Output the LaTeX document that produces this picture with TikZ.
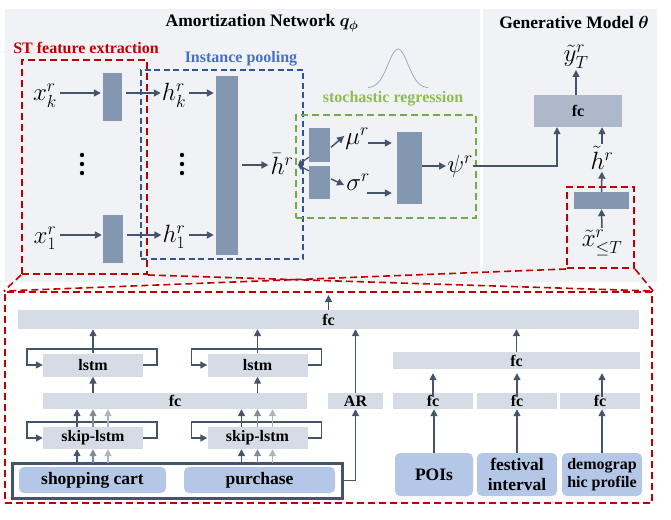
\RequirePackage{fix-cm}
\documentclass[tikz,border=0pt]{standalone}
\usepackage{amsmath}
\usepackage{bm}
\usepackage{fontspec}
\setmainfont{Liberation Serif}
\usetikzlibrary{arrows.meta,calc}
\definecolor{bgc}{RGB}{240,242,246}
\definecolor{rectc}{RGB}{132,151,176}
\definecolor{fcdark}{RGB}{173,185,202}
\definecolor{fclight}{RGB}{214,220,229}
\definecolor{inbox}{RGB}{180,199,231}
\definecolor{arrc}{RGB}{68,84,106}
\definecolor{arrm}{RGB}{128,139,156}
\definecolor{arrl}{RGB}{173,180,191}
\definecolor{redc}{RGB}{192,0,0}
\definecolor{bluec}{RGB}{47,85,151}
\definecolor{greenc}{RGB}{112,173,71}
\definecolor{bluetext}{RGB}{68,114,196}
\definecolor{greentext}{RGB}{141,190,80}
\definecolor{bellc}{RGB}{143,165,192}
\tikzset{
  arr/.style={draw=arrc, line width=1.5pt, -{Triangle[length=7pt,width=7pt]}},
  arrmid/.style={arr, draw=arrm, -{Triangle[length=7pt,width=7pt,fill=arrm]}},
  arrlight/.style={arr, draw=arrl, -{Triangle[length=7pt,width=7pt,fill=arrl]}},
  grect/.style={fill=rectc, draw=none, inner sep=0pt},
  lbar/.style={fill=fclight, draw=none, inner sep=0pt, font=\fontsize{16}{18}\selectfont\bfseries},
  ibox/.style={fill=inbox, draw=none, rounded corners=5pt, inner sep=0pt, align=center, font=\fontsize{17.5}{20}\selectfont\bfseries},
  mth/.style={inner sep=0pt, font=\fontsize{25}{30}\selectfont},
  ttl/.style={inner sep=0pt, font=\fontsize{17.5}{20}\selectfont\bfseries},
  ttlb/.style={inner sep=0pt, font=\fontsize{16}{18}\selectfont\bfseries},
  redbox/.style={draw=redc, line width=2pt, dash pattern=on 7pt off 4pt, inner sep=0pt},
  bluebox/.style={draw=bluec, line width=1.8pt, dash pattern=on 6pt off 3.5pt, inner sep=0pt},
  greenbox/.style={draw=greenc, line width=2pt, dash pattern=on 7pt off 4pt, inner sep=0pt},
  redline/.style={draw=redc, line width=1.6pt, dash pattern=on 7pt off 4pt},
}
\begin{document}
\begin{tikzpicture}[x=1pt,y=-1pt]
\useasboundingbox (0,0) rectangle (671,519);
% panels
\fill[bgc] (5,9) rectangle (480,282);
\fill[bgc] (483,9) rectangle (657,282);
% titles
\node[ttl] (t1) at (262,23) {Amortization Network $\bm{q_{\phi}}$};
\node[ttl] (t2) at (574,23) {Generative Model $\bm{\theta}$};
\node[ttlb, text=redc] (t3) at (86,48) {ST feature extraction};
\node[ttlb, text=bluetext] (t4) at (241,59) {Instance pooling};
\node[ttlb, text=greentext] (t5) at (393,99) {stochastic regression};
% bell curve
\draw[bellc, line width=0.7pt, domain=-3:3, samples=60, smooth] plot ({398+10*\x},{88-39*exp(-\x*\x/2)});
% dashed boxes
\node[redbox, minimum width=125pt, minimum height=214pt] (stbox) at (84.5,167) {};
\node[bluebox, minimum width=162pt, minimum height=189pt] (ipbox) at (222,164.5) {};
\node[greenbox, minimum width=180pt, minimum height=103pt] (srbox) at (386,166.5) {};
\node[redbox, minimum width=67pt, minimum height=81pt] (xbox) at (600.5,227.5) {};
\node[redbox, minimum width=647pt, minimum height=211pt] (big) at (328.5,397.5) {};
% connection lines
\draw[redline] (stbox.south west) -- (big.north west);
\draw[redline] (stbox.south east) -- (big.north east);
\draw[redline] (xbox.south west) -- (big.north west);
\draw[redline] (xbox.south east) -- (big.north east);
% amortization network
\node[mth] (xk) at (45,96) {$x_k^r$};
\node[mth] (x1) at (45,238) {$x_1^r$};
\node[grect, minimum width=19pt, minimum height=48pt] (r1) at (112.5,97) {};
\node[grect, minimum width=20pt, minimum height=48pt] (r2) at (113,239) {};
\node[mth] (hk) at (174,95) {$h_k^r$};
\node[mth] (h1) at (174,237) {$h_1^r$};
\node[grect, minimum width=22pt, minimum height=179pt] (pool) at (227,165.5) {};
\node[mth] (hbar) at (282,164) {$\bar{h}^r$};
\fill (82,155) circle (2.2pt);
\fill (82,164) circle (2.2pt);
\fill (82,173) circle (2.2pt);
\fill (182,155) circle (2.2pt);
\fill (182,164) circle (2.2pt);
\fill (182,173) circle (2.2pt);
\draw[arr, shorten <=3pt, shorten >=2pt] ([yshift=3pt]xk.east) -- ([yshift=3pt]xk.east -| r1.west);
\draw[arr, shorten <=3pt, shorten >=1pt] ([yshift=3pt]x1.east) -- ([yshift=3pt]x1.east -| r2.west);
\draw[arr, shorten <=4pt, shorten >=1pt] ([yshift=2pt]r1.east |- hk.west) -- ([yshift=2pt]hk.west);
\draw[arr, shorten <=4pt, shorten >=1pt] ([yshift=2pt]r2.east |- h1.west) -- ([yshift=2pt]h1.west);
\draw[arr, shorten <=3pt, shorten >=2pt] ([yshift=2pt]hk.east) -- ([yshift=2pt]hk.east -| pool.west);
\draw[arr, shorten <=3pt, shorten >=2pt] ([yshift=2pt]h1.east) -- ([yshift=2pt]h1.east -| pool.west);
\draw[arr, shorten <=4pt, shorten >=2pt] ([yshift=-1pt]pool.east |- hbar.west) -- ([yshift=-1pt]hbar.west);
% stochastic regression
\node[grect, minimum width=21pt, minimum height=34pt] (g1) at (319.5,145) {};
\node[grect, minimum width=21pt, minimum height=33pt] (g2) at (319.5,182.5) {};
\coordinate (hbtip) at (298,165);
\draw[arr, line width=1.2pt, -{Triangle[length=5pt,width=6pt]}] ([yshift=5pt]g1.south west) -- (hbtip);
\draw[arr, line width=1.2pt, -{Triangle[length=5pt,width=6pt]}] ([yshift=-5pt]g2.north west) -- (hbtip);
\node[mth] (mu) at (357,139) {$\mu^r$};
\node[mth] (sigma) at (358,182) {$\sigma^r$};
\node[grect, minimum width=25pt, minimum height=72pt] (b2) at (409.5,168) {};
\node[mth] (psi) at (460,166) {$\psi^r$};
\draw[arr, shorten <=1pt] ([yshift=-3pt]g1.east) -- ([yshift=3pt,xshift=-1pt]mu.west);
\draw[arr, shorten <=1pt] ([yshift=4pt]g2.east) -- ([yshift=-3pt,xshift=-2pt]sigma.west);
\draw[arr, shorten <=-1pt, shorten >=5pt] ([yshift=-4pt]mu.east) -- ([yshift=-4pt]mu.east -| b2.west);
\draw[arr, shorten <=-1pt, shorten >=5pt] ([yshift=-11pt,xshift=-2pt]sigma.east) -- ([yshift=-11pt]sigma.east -| b2.west);
\draw[arr, shorten >=1pt] (b2.east |- psi.west) -- (psi.west);
% generative model
\node[fill=fcdark, minimum width=88pt, minimum height=32pt, inner sep=0pt, font=\fontsize{16}{18}\selectfont\bfseries] (gfc) at (578,111) {fc};
\node[mth] (yT) at (576,57) {$\tilde{y}_T^r$};
\node[mth] (ht) at (602,158) {$\tilde{h}^r$};
\node[grect, minimum width=55pt, minimum height=17pt] (sr) at (601.5,200.5) {};
\node[mth] (xt) at (602,243) {$\tilde{x}_{\leq T}^r$};
\draw[arr, line width=1.3pt] (psi.east) -| ([xshift=-21pt]gfc.south);
\draw[arr, shorten >=1pt] (gfc.north -| yT) -- (yT.south);
\draw[arr, shorten <=2pt] (ht.north) -- (ht.north |- gfc.south);
\draw[arr, shorten >=2pt] (sr.north) -- (ht.south);
\draw[arr, shorten <=2pt] (xt.north) -- (sr.south);
% ===== bottom detail =====
\node[lbar, minimum width=621pt, minimum height=19pt] (topfc) at (328.5,319.5) {fc};
\coordinate (outc) at (328.5,295);
\draw[arr] (topfc.north) -- (outc);
\node[lbar, minimum width=100pt, minimum height=23pt] (lstmA) at (93,365) {lstm};
\node[lbar, minimum width=100pt, minimum height=23pt] (lstmB) at (257.5,365) {lstm};
\node[lbar, minimum width=264pt, minimum height=16pt] (midfc) at (175,401) {fc};
\node[lbar, minimum width=55pt, minimum height=16pt] (AR) at (355.5,401) {AR};
\node[lbar, minimum width=100pt, minimum height=22pt] (skipA) at (93,438) {skip-lstm};
\node[lbar, minimum width=100pt, minimum height=22pt] (skipB) at (257.5,438) {skip-lstm};
\node[draw=arrc, line width=3pt, minimum width=330pt, minimum height=35pt, inner sep=0pt] (outer) at (177,480.5) {};
\node[ibox, minimum width=147pt, minimum height=26pt] (shop) at (92.5,480) {shopping cart};
\node[ibox, minimum width=151pt, minimum height=26pt] (purch) at (259.5,480) {purchase};
\node[lbar, minimum width=247pt, minimum height=17pt] (rmfc) at (516.5,360.5) {fc};
\node[lbar, minimum width=80pt, minimum height=16pt] (fcA) at (433,401) {fc};
\node[lbar, minimum width=80pt, minimum height=16pt] (fcB) at (517,401) {fc};
\node[lbar, minimum width=80pt, minimum height=16pt] (fcC) at (600,401) {fc};
\node[ibox, minimum width=78pt, minimum height=43pt] (poi) at (434,474.5) {POIs};
\node[ibox, minimum width=80pt, minimum height=43pt, font=\fontsize{17.5}{20}\selectfont\bfseries] (fest) at (517,474.5) {festival\\interval};
\node[ibox, minimum width=80pt, minimum height=43pt, font=\fontsize{16}{18}\selectfont\bfseries] (demo) at (602,474.5) {demograp\\hic profile};
% loops
\foreach \n in {lstmA,lstmB,skipA,skipB}{
  \draw[arr] (\n.east) -- ++(14,0) -- ++(0,-16) -- ++(-130,0) -- ++(0,16) -- (\n.west);
}
% vertical arrows left
\foreach \n in {lstmA,lstmB}{
  \draw[arr] (\n.north) -- (\n.north |- topfc.south);
  \draw[arr] (\n.south |- midfc.north) -- (\n.south);
}
\foreach \n in {skipA,skipB}{
  \draw[arr] ([xshift=-16pt]\n.north) -- ([xshift=-16pt]\n.north |- midfc.south);
  \draw[arrmid] (\n.north) -- (\n.north |- midfc.south);
  \draw[arrlight] ([xshift=15pt]\n.north) -- ([xshift=15pt]\n.north |- midfc.south);
  \draw[arr] ([xshift=-16pt,yshift=-1.5pt]\n.south |- outer.north) -- ([xshift=-16pt]\n.south);
  \draw[arrmid] ([yshift=-1.5pt]\n.south |- outer.north) -- (\n.south);
  \draw[arrlight] ([xshift=15pt,yshift=-1.5pt]\n.south |- outer.north) -- ([xshift=15pt]\n.south);
}
\draw[arr] (outer.east) -| (AR.south);
\draw[arr] (AR.north) -- (AR.north |- topfc.south);
% right side
\draw[arr] (rmfc.north) -- (rmfc.north |- topfc.south);
\draw[arr] ([yshift=-4pt]fcA.north) -- ([yshift=-4pt]fcA.north |- rmfc.south);
\draw[arr] ([yshift=-4pt]fcB.north) -- ([yshift=-4pt]fcB.north |- rmfc.south);
\draw[arr] ([xshift=2pt,yshift=-4pt]fcC.north) -- ([xshift=2pt,yshift=-4pt]fcC.north |- rmfc.south);
\draw[arr] (poi.north) -- (poi.north |- fcA.south);
\draw[arr] (fest.north) -- (fest.north |- fcB.south);
\draw[arr] (demo.north) -- (demo.north |- fcC.south);
\end{tikzpicture}
\end{document}
